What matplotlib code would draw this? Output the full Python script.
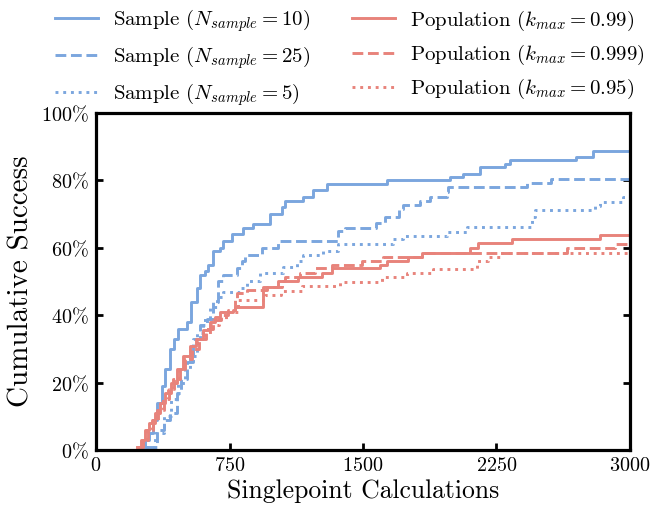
import numpy as np
import matplotlib
matplotlib.use('Agg')
import matplotlib.pyplot as plt
from matplotlib.ticker import FuncFormatter

plt.rcParams['font.family'] = 'serif'
plt.rcParams['font.serif'] = ['cmr10']
plt.rcParams['mathtext.fontset'] = 'cm'
plt.rcParams['axes.formatter.use_mathtext'] = True

blue = '#7ba6de'
red = '#e8837b'

# sample runs (singlepoint calculations, cumulative success in %)
s10_x = [250, 275, 300, 322, 345, 369, 390, 416, 440, 463, 509, 535, 566, 584, 612, 631, 659, 697, 715,
         762, 828, 884, 978, 1043, 1062, 1165, 1221, 1296, 1633, 1989, 2060, 2157, 2298, 2326, 2697, 2794, 3000]
s10_y = [1, 3, 5, 9, 14, 19, 24, 30, 33, 36, 38, 44, 48, 52, 53, 55, 59, 60, 62,
         64, 66, 67, 70, 72, 74, 75, 77, 79, 80, 81, 82, 84, 85, 86, 87, 88.8, 88.8]

s25_x = [280, 341, 380, 416, 453, 480, 509, 547, 584, 622, 659, 687, 715, 790, 819, 837, 931, 1024, 1361,
         1399, 1573, 1624, 1704, 1727, 1820, 1876, 1970, 1979, 2420, 2555, 3000]
s25_y = [1, 6, 9, 11, 17, 21, 26, 33, 37, 39, 44, 50, 52, 54, 56, 58, 60, 62, 65,
         66, 67.5, 69, 71.4, 72.7, 74, 75, 76.7, 78, 79.2, 80.5, 80.5]

s5_x = [275, 330, 380, 420, 460, 500, 528, 566, 603, 640, 678, 715, 809, 847, 921, 1052, 1127, 1165, 1277,
        1361, 1670, 1727, 1970, 2082, 2448, 2466, 2803, 2831, 2959, 3000]
s5_y = [1, 5, 10, 15, 20, 24, 28, 34.6, 38.6, 42.5, 45.5, 47, 48, 50, 52.4, 54.4, 56, 58, 59,
        61, 62.5, 63.5, 64.8, 66.1, 69, 71.1, 72.4, 73.7, 75, 75]

# population runs
p99_x = [229, 250, 275, 300, 331, 360, 388, 420, 453, 490, 528, 560, 603, 640, 669, 697, 771, 781, 940,
         1024, 1137, 1268, 1324, 1596, 1633, 1755, 1830, 2101, 2148, 2335, 2831, 3000]
p99_y = [1, 3, 6, 8, 11, 14, 17, 20, 24, 28, 31, 33, 35.6, 38, 39.6, 41, 41.5, 42.5, 48.3,
         50, 51.4, 52.4, 53.9, 55, 56.2, 57.4, 58.6, 60, 61.3, 62.6, 63.8, 63.8]

p999_x = [240, 265, 290, 320, 350, 380, 410, 440, 470, 500, 540, 580, 620, 660, 700, 740, 781, 790, 847,
          959, 1043, 1062, 1146, 1230, 1324, 1493, 1614, 1830, 2644, 2916, 3000]
p999_y = [1, 3, 6, 9, 12, 15, 18, 21, 24, 27, 30, 33, 36, 38.5, 40, 41.5, 44.5, 46.5, 47.5,
          48.5, 50, 51.2, 52.4, 53.9, 54.9, 56.2, 57.4, 58.6, 59.9, 61.1, 61.1]

p95_x = [235, 260, 285, 315, 345, 375, 405, 435, 465, 495, 530, 570, 610, 650, 690, 730, 800, 950, 1040,
         1155, 1371, 1605, 1745, 1895, 2139, 2200, 2270, 3000]
p95_y = [1, 3, 6, 9, 12, 15, 18, 21, 24, 27, 30, 33, 35, 37, 39, 41, 44.5, 46, 47.2,
         48.7, 49.8, 51.2, 52.4, 53.6, 56.1, 57.4, 58.6, 58.6]

fig = plt.figure(figsize=(6.51, 5.08), dpi=100)
ax = fig.add_axes([0.1475, 0.1142, 0.8202, 0.6634])

lw = 2.1
ax.step(s10_x, s10_y, where='post', color=blue, lw=lw, ls='-', label=r'Sample ($N_{sample} = 10$)')
ax.step(s25_x, s25_y, where='post', color=blue, lw=lw, ls='--', label=r'Sample ($N_{sample} = 25$)')
ax.step(s5_x, s5_y, where='post', color=blue, lw=lw, ls=':', label=r'Sample ($N_{sample} = 5$)')
ax.step(p99_x, p99_y, where='post', color=red, lw=lw, ls='-', label=r'Population ($k_{max} = 0.99$)')
ax.step(p999_x, p999_y, where='post', color=red, lw=lw, ls='--', label=r'Population ($k_{max} = 0.999$)')
ax.step(p95_x, p95_y, where='post', color=red, lw=lw, ls=':', label=r'Population ($k_{max} = 0.95$)')

ax.set_xlim(0, 3000)
ax.set_ylim(0, 100)
ax.set_xticks([0, 750, 1500, 2250, 3000])
ax.set_yticks([0, 20, 40, 60, 80, 100])
ax.yaxis.set_major_formatter(FuncFormatter(lambda v, p: r'$%d\%%$' % v))
ax.xaxis.set_major_formatter(FuncFormatter(lambda v, p: r'$%d$' % v))
ax.tick_params(direction='in', length=5, width=2, labelsize=14.5, right=True, top=False, pad=5)
for s in ax.spines.values():
    s.set_linewidth(2.3)

ax.set_xlabel('Singlepoint Calculations', fontsize=18.5, labelpad=3)
ax.set_ylabel('Cumulative Success', fontsize=21, labelpad=5)

fig.legend(loc='upper center', bbox_to_anchor=(0.537, 1.022), ncol=2, frameon=False, fontsize=15.0,
           handlelength=2.1, handletextpad=0.7, columnspacing=2.0, labelspacing=0.48)

fig.savefig('out.png', dpi=100)
